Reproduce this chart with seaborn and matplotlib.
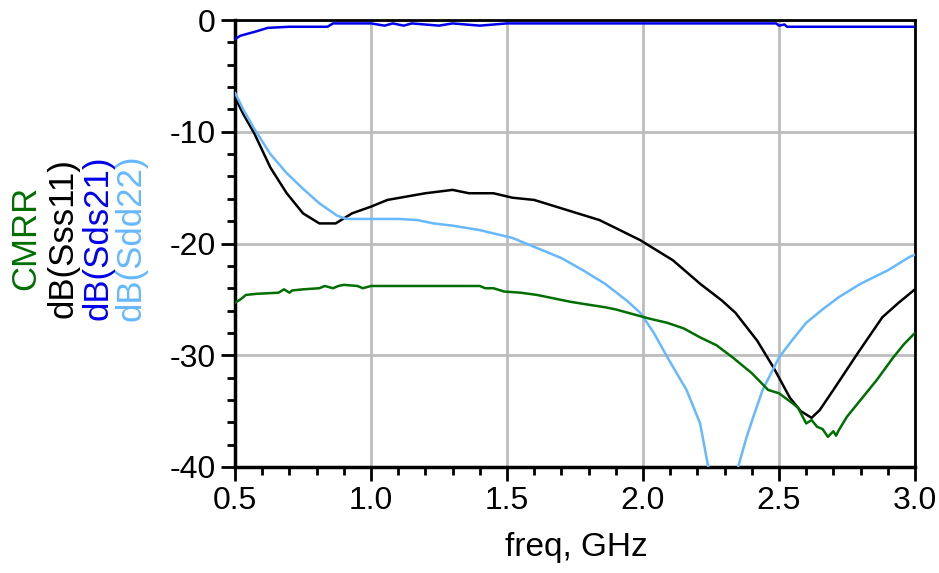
import numpy as np
import pandas as pd
import seaborn as sns
import matplotlib.pyplot as plt
from matplotlib.ticker import MultipleLocator

# Data
freq_s21 = [0.50, 0.52, 0.55, 0.58, 0.62, 0.70, 0.84, 0.86, 1.00, 1.05, 1.08, 1.12, 1.15, 1.20,
            1.25, 1.30, 1.40, 1.50, 1.60, 1.80, 2.00, 2.20, 2.40, 2.49, 2.50, 2.52, 2.53, 2.56,
            2.60, 2.80, 3.00]
s21 = [-1.7, -1.4, -1.2, -1.0, -0.7, -0.6, -0.6, -0.3, -0.3, -0.5, -0.3, -0.5, -0.3, -0.4,
       -0.5, -0.3, -0.5, -0.3, -0.3, -0.3, -0.3, -0.3, -0.3, -0.3, -0.5, -0.4, -0.6, -0.6,
       -0.6, -0.6, -0.6]

freq_s11 = [0.50, 0.53, 0.57, 0.63, 0.69, 0.75, 0.81, 0.87, 0.93, 1.00, 1.06, 1.13, 1.20, 1.30,
            1.36, 1.45, 1.52, 1.60, 1.72, 1.84, 1.99, 2.11, 2.21, 2.29, 2.34, 2.42, 2.48, 2.54,
            2.58, 2.62, 2.65, 2.70, 2.79, 2.88, 2.94, 3.00]
s11 = [-6.9, -8.4, -10.1, -13.2, -15.5, -17.3, -18.2, -18.2, -17.3, -16.7, -16.1, -15.8, -15.5,
       -15.2, -15.5, -15.5, -15.9, -16.1, -17.0, -17.9, -19.7, -21.5, -23.6, -25.1, -26.2,
       -28.7, -31.1, -33.8, -35.0, -35.6, -34.9, -33.1, -29.8, -26.6, -25.3, -24.1]

freq_s22 = [0.50, 0.53, 0.57, 0.63, 0.69, 0.75, 0.81, 0.875, 0.91, 1.00, 1.10, 1.17, 1.23, 1.30,
            1.40, 1.52, 1.60, 1.70, 1.78, 1.86, 1.94, 1.99, 2.04, 2.09, 2.16, 2.21, 2.24, 2.27,
            2.30, 2.33, 2.35, 2.38, 2.41, 2.44, 2.50, 2.55, 2.60, 2.66, 2.72, 2.80, 2.90, 2.98,
            3.00]
s22 = [-6.5, -8.0, -9.7, -12.0, -13.7, -15.1, -16.4, -17.5, -17.8, -17.8, -17.8, -17.9, -18.2,
       -18.4, -18.8, -19.5, -20.3, -21.3, -22.4, -23.6, -25.1, -26.2, -28.0, -30.2, -33.1,
       -36.1, -40.0, -46.0, -50.0, -46.0, -40.0, -37.4, -35.2, -33.1, -30.2, -28.6, -27.1,
       -25.9, -24.8, -23.6, -22.4, -21.2, -21.0]

freq_cm = [0.50, 0.52, 0.54, 0.58, 0.66, 0.68, 0.70, 0.71, 0.75, 0.81, 0.83, 0.86, 0.88, 0.90,
           0.95, 0.97, 1.00, 1.02, 1.10, 1.20, 1.30, 1.40, 1.42, 1.45, 1.49, 1.55, 1.61, 1.67,
           1.73, 1.78, 1.86, 1.90, 1.96, 2.02, 2.09, 2.15, 2.21, 2.27, 2.33, 2.40, 2.46, 2.50,
           2.55, 2.57, 2.60, 2.62, 2.64, 2.66, 2.68, 2.70, 2.71, 2.72, 2.75, 2.78, 2.82, 2.86,
           2.92, 2.96, 3.00]
cmrr = [-25.3, -25.0, -24.6, -24.5, -24.4, -24.1, -24.4, -24.2, -24.1, -24.0, -23.8, -24.0,
        -23.8, -23.7, -23.8, -24.0, -23.8, -23.8, -23.8, -23.8, -23.8, -23.8, -24.0, -24.0,
        -24.3, -24.4, -24.6, -24.9, -25.2, -25.4, -25.7, -25.9, -26.3, -26.7, -27.1, -27.6,
        -28.4, -29.1, -30.2, -31.6, -33.1, -33.4, -34.3, -34.7, -36.1, -35.8, -36.4, -36.6,
        -37.3, -36.8, -37.2, -36.7, -35.5, -34.6, -33.4, -32.2, -30.2, -29.0, -28.0]

c_cmrr = "#006e00"
c_s11 = "black"
c_s21 = "#0000ee"
c_s22 = "#66b8ff"

sns.set_style("white")
plt.rcParams["font.family"] = ["Liberation Sans", "DejaVu Sans"]
plt.rcParams["axes.unicode_minus"] = False
plt.rcParams["text.color"] = "black"

fig = plt.figure(figsize=(9.39, 5.73), dpi=100)
ax = fig.add_axes([0.2503, 0.185, 0.7241, 0.78])

series = [(freq_s21, s21, c_s21), (freq_s11, s11, c_s11),
          (freq_s22, s22, c_s22), (freq_cm, cmrr, c_cmrr)]
for f, v, c in series:
    df = pd.DataFrame({"freq": f, "val": v})
    sns.lineplot(data=df, x="freq", y="val", color=c, linewidth=1.8, ax=ax,
                 sort=False, estimator=None, zorder=3)

ax.set_xlim(0.5, 3.0)
ax.set_ylim(-40, 0)
ax.xaxis.set_major_locator(MultipleLocator(0.5))
ax.xaxis.set_minor_locator(MultipleLocator(0.1))
ax.yaxis.set_major_locator(MultipleLocator(10))
ax.yaxis.set_minor_locator(MultipleLocator(2))
ax.set_xticklabels([f"{t:.1f}" for t in ax.get_xticks()])
ax.set_yticklabels([f"{t:.0f}" for t in ax.get_yticks()])
ax.grid(True, which="major", color="#bdbdbd", linewidth=2.0, zorder=1)
ax.tick_params(which="major", direction="out", length=10, width=2, labelsize=23,
               left=True, bottom=True, pad=4, color="black", labelcolor="black")
ax.tick_params(which="minor", direction="out", length=6, width=2, left=True, bottom=True,
               color="black")
for side in ["left", "bottom"]:
    ax.spines[side].set_linewidth(2.5)
    ax.spines[side].set_color("black")
for side in ["top", "right"]:
    ax.spines[side].set_linewidth(2.0)
    ax.spines[side].set_color("black")
ax.set_xlabel("")
ax.set_ylabel("")

# multi-colour y label
ylabels = [("CMRR", c_cmrr, 0.027), ("dB(Sss11)", c_s11, 0.067),
           ("dB(Sds21)", c_s21, 0.104), ("dB(Sdd22)", c_s22, 0.139)]
for txt, c, xpos in ylabels:
    fig.text(xpos, 0.585, txt, color=c, rotation=90, fontsize=25, ha="center", va="center")

fig.text(0.614, 0.044, "freq, GHz", fontsize=24, ha="center", va="center")

fig.savefig("out.png", dpi=100)
